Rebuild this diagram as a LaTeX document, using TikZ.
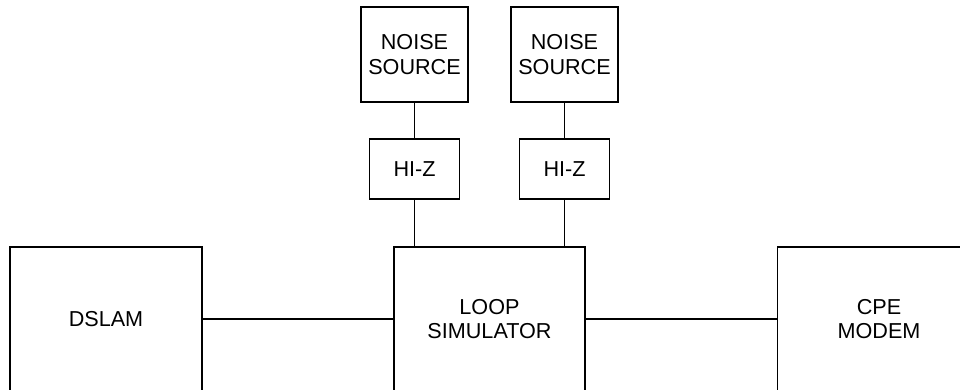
\documentclass[tikz,border=0pt]{standalone}
\usepackage{fontspec}
\setmainfont{Liberation Sans}
\begin{document}
\begin{tikzpicture}[x=0.02cm,y=-0.02cm,
  blk/.style={draw,line width=0.6pt,inner sep=0pt,align=center,font=\fontsize{12.3}{13.8}\selectfont},
  wire/.style={line width=0.6pt}]
\useasboundingbox (0,0) rectangle (960,390);
\clip (0,0) rectangle (960,389);
\node[blk,minimum width=3.84cm,minimum height=2.88cm] (dslam) at (106,319) {DSLAM};
\node[blk,minimum width=3.82cm,minimum height=2.88cm] (loop) at (489.5,319) {LOOP\\SIMULATOR};
\node[blk,minimum width=4.08cm,minimum height=2.88cm] (cpe) at (879,319) {CPE\\MODEM};
\node[blk,minimum width=2.14cm,minimum height=1.9cm] (noise1) at (414.5,54.5) {NOISE\\SOURCE};
\node[blk,minimum width=2.14cm,minimum height=1.9cm] (noise2) at (564.5,54.5) {NOISE\\SOURCE};
\node[blk,minimum width=1.8cm,minimum height=1.2cm] (hiz1) at (414.5,169) {HI-Z};
\node[blk,minimum width=1.8cm,minimum height=1.2cm] (hiz2) at (564.5,169) {HI-Z};
\draw[wire] (dslam) -- (loop);
\draw[wire] (loop) -- (cpe);
\draw[wire] (noise1) -- (hiz1);
\draw[wire] (noise2) -- (hiz2);
\draw[wire] (hiz1.south) -- (hiz1.south |- loop.north);
\draw[wire] (hiz2.south) -- (hiz2.south |- loop.north);
\end{tikzpicture}
\end{document}
